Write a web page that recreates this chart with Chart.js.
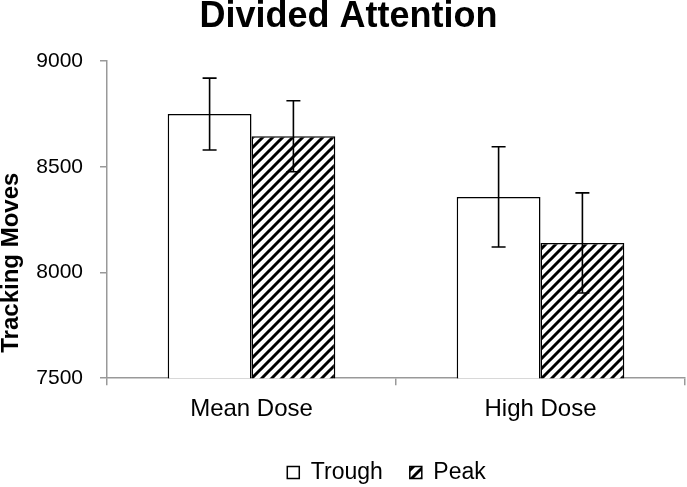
<!DOCTYPE html>
<html>
<head>
<meta charset="utf-8">
<script src="https://cdn.jsdelivr.net/npm/chart.js@4"></script>
<style>
  html, body { margin: 0; padding: 0; background: #fff; }
  #wrap { width: 687px; height: 487px; }
</style>
</head>
<body>
<div id="wrap"><canvas id="chart"></canvas></div>
<script>
const categories = ['Mean Dose', 'High Dose'];
const troughValues = [8750, 8358];
const troughErrors = [170, 237];
const peakValues = [8645, 8140];
const peakErrors = [168, 237];
const yTicks = [7500, 8000, 8500, 9000];

const FONT = '"Liberation Sans", Arial, sans-serif';
const AXIS_GREY = '#999';

// diagonal hatch like the Excel "wide upward diagonal" fill
const makeHatch = () => {
    const c = document.createElement('canvas');
    c.width = 10; c.height = 10;
    const ctx = c.getContext('2d');
    ctx.fillStyle = '#fff';
    ctx.fillRect(0, 0, 10, 10);
    ctx.strokeStyle = '#000';
    ctx.lineWidth = 3;
    ctx.beginPath();
    ctx.moveTo(-2, 12); ctx.lineTo(12, -2);
    ctx.moveTo(-7, 7); ctx.lineTo(7, -7);
    ctx.moveTo(3, 17); ctx.lineTo(17, 3);
    ctx.stroke();
    return ctx.createPattern(c, 'repeat');
};

const errorBars = {
    id: 'errorBars',
    afterDatasetsDraw(chart) {
        const { ctx, scales: { y } } = chart;
        const errs = [troughErrors, peakErrors];
        ctx.save();
        ctx.strokeStyle = '#000';
        ctx.lineWidth = 1.6;
        chart.data.datasets.forEach((ds, i) => {
            chart.getDatasetMeta(i).data.forEach((bar, j) => {
                const top = y.getPixelForValue(ds.data[j] + errs[i][j]);
                const bot = y.getPixelForValue(ds.data[j] - errs[i][j]);
                ctx.beginPath();
                ctx.moveTo(bar.x, top); ctx.lineTo(bar.x, bot);
                ctx.moveTo(bar.x - 7, top); ctx.lineTo(bar.x + 7, top);
                ctx.moveTo(bar.x - 7, bot); ctx.lineTo(bar.x + 7, bot);
                ctx.stroke();
            });
        });
        ctx.restore();
    }
};

// y axis title sits lower than the plot centre in the original
const yTitle = {
    id: 'yTitle',
    afterDraw(chart) {
        const { ctx, chartArea } = chart;
        ctx.save();
        ctx.translate(11, (chartArea.top + chartArea.bottom) / 2 + 43);
        ctx.rotate(-Math.PI / 2);
        ctx.font = `bold 24px ${FONT}`;
        ctx.fillStyle = '#000';
        ctx.textAlign = 'center';
        ctx.textBaseline = 'middle';
        ctx.fillText('Tracking Moves', 0, 0);
        ctx.restore();
    }
};

// legend in the original is centred under the plot area, not the whole chart
const legendShift = {
    id: 'legendShift',
    afterLayout(chart) {
        if (chart.legend) chart.legend.left += 76;
    }
};

new Chart(document.getElementById('chart'), {
    type: 'bar',
    data: {
        labels: categories,
        datasets: [
            { label: 'Trough', data: troughValues, backgroundColor: '#fff', borderColor: '#000', borderWidth: 1.5 },
            { label: 'Peak', data: peakValues, backgroundColor: makeHatch(), borderColor: '#000', borderWidth: 1.5 }
        ]
    },
    options: {
        responsive: true, maintainAspectRatio: false, animation: false,
        devicePixelRatio: 1,
        categoryPercentage: 0.58, barPercentage: 1.0,
        layout: { padding: { left: 12, right: 2, top: 0, bottom: -7 } },
        plugins: {
            title: { display: true, text: 'Divided Attention', color: '#000',
                     font: { family: FONT, size: 36, weight: 'bold', lineHeight: 0.95 },
                     padding: { top: 0, bottom: 27 } },
            legend: { position: 'bottom',
                      labels: { color: '#000', font: { family: FONT, size: 23 }, boxWidth: 12, boxHeight: 12, padding: 27 } },
            tooltip: { enabled: false }
        },
        scales: {
            x: {
                border: { color: AXIS_GREY, width: 1.5 },
                grid: { drawOnChartArea: false, color: AXIS_GREY, tickLength: 7, lineWidth: 1.5 },
                ticks: { color: '#000', font: { family: FONT, size: 24 }, padding: 10 }
            },
            y: {
                min: 7500, max: 9000,
                border: { color: AXIS_GREY, width: 1.5 },
                grid: { drawOnChartArea: false, color: AXIS_GREY, tickLength: 7, lineWidth: 1.5 },
                afterBuildTicks: axis => { axis.ticks = yTicks.map(v => ({ value: v })); },
                afterFit: axis => { axis.width = 95; },
                ticks: { color: '#000', font: { family: FONT, size: 21 }, padding: 17, callback: v => String(v) }
            }
        }
    },
    plugins: [errorBars, yTitle, legendShift]
});
</script>
</body>
</html>
